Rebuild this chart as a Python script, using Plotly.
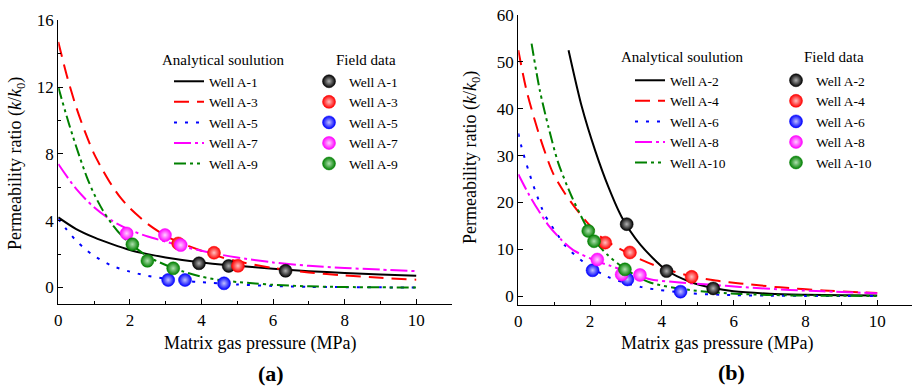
import plotly.graph_objects as go

FONT = "Liberation Serif"

# ---------------- data: panel (a) ----------------
wells_a = ["Well A-1", "Well A-3", "Well A-5", "Well A-7", "Well A-9"]
p_a1 = [0, 0.5, 1, 1.5, 2, 2.5, 3, 4, 5, 6, 7, 8, 9, 10]
k_a1 = [4.2, 3.5, 3.0, 2.6, 2.25, 2.0, 1.8, 1.5, 1.3, 1.12, 0.98, 0.87, 0.78, 0.7]
p_a3 = [0, 0.25, 0.5, 0.75, 1, 1.25, 1.5, 1.75, 2, 2.5, 3, 3.5, 4, 4.5, 5, 6, 7, 8, 9, 10]
k_a3 = [14.7, 12.6, 10.8, 9.3, 8.0, 7.0, 6.1, 5.35, 4.75, 3.8, 3.1, 2.6, 2.2, 1.85, 1.57, 1.17, 0.9, 0.72, 0.58, 0.47]
p_a5 = [0, 0.2, 0.5, 0.75, 1, 1.5, 2, 2.5, 3, 3.5, 4, 5, 6, 7, 8, 9, 10]
k_a5 = [4.1, 3.55, 2.8, 2.3, 1.9, 1.3, 0.95, 0.7, 0.52, 0.4, 0.32, 0.18, 0.09, 0.04, 0.02, 0.01, 0.0]
p_a7 = [0, 0.5, 1, 1.5, 2, 2.5, 3, 3.5, 4, 4.5, 5, 6, 7, 8, 9, 10]
k_a7 = [7.4, 5.9, 4.8, 4.0, 3.45, 3.05, 2.75, 2.45, 2.2, 1.98, 1.8, 1.5, 1.3, 1.17, 1.07, 0.98]
p_a9 = [0, 0.2, 0.4, 0.6, 0.8, 1, 1.25, 1.5, 1.75, 2, 2.5, 3, 3.5, 4, 4.5, 5, 5.5, 6, 7, 8, 9, 10]
k_a9 = [12.0, 10.5, 9.1, 7.8, 6.6, 5.6, 4.6, 3.8, 3.15, 2.65, 1.85, 1.35, 0.95, 0.65, 0.45, 0.33, 0.24, 0.16, 0.07, 0.03, 0.01, 0.0]

fp_a1 = [3.93, 4.76, 6.35]; fk_a1 = [1.45, 1.29, 1.0]
fp_a3 = [3.35, 4.35, 5.02]; fk_a3 = [2.64, 2.08, 1.30]
fp_a5 = [3.07, 3.54, 4.63]; fk_a5 = [0.45, 0.45, 0.25]
fp_a7 = [1.91, 2.98, 3.42]; fk_a7 = [3.24, 3.14, 2.54]
fp_a9 = [2.07, 2.49, 3.21]; fk_a9 = [2.59, 1.60, 1.15]

# ---------------- data: panel (b) ----------------
wells_b = ["Well A-2", "Well A-4", "Well A-6", "Well A-8", "Well A-10"]
p_b2 = [1.4, 1.77, 2.14, 2.51, 2.88, 3.4, 4.13, 4.8, 5.43, 6, 7, 8, 9, 10]
k_b2 = [52.5, 40.4, 31.1, 23.3, 16.9, 11.0, 5.5, 3.0, 1.7, 1.0, 0.5, 0.28, 0.15, 0.1]
p_b4 = [0, 0.23, 0.6, 0.97, 1.3, 1.67, 2.0, 2.4, 3.0, 3.5, 4.0, 4.83, 5.5, 6.18, 7.29, 8.5, 10]
k_b4 = [52.5, 43.9, 34.0, 26.2, 21.9, 18.0, 15.0, 12.0, 9.4, 7.5, 6.0, 4.2, 3.3, 2.7, 1.85, 1.2, 0.65]
p_b6 = [0, 0.09, 0.28, 0.47, 0.74, 1.07, 1.3, 1.81, 2.46, 3.44, 4.78, 6, 7, 8, 10]
k_b6 = [34.7, 31.8, 26.9, 22.5, 17.3, 13.4, 10.8, 7.3, 4.2, 1.9, 0.6, 0.2, 0.08, 0.03, 0.0]
p_b8 = [0, 0.28, 0.56, 0.84, 1.2, 1.53, 2.2, 2.55, 3.0, 3.67, 4.5, 5.3, 6.18, 7.57, 8.5, 10]
k_b8 = [26.0, 21.9, 18.3, 15.1, 12.0, 9.8, 7.4, 6.5, 5.3, 3.6, 2.9, 2.45, 1.95, 1.3, 1.0, 0.6]
p_b10 = [0.37, 0.6, 0.84, 1.11, 1.49, 1.9, 2.11, 2.5, 2.97, 3.67, 4.78, 6.18, 7.5, 10]
k_b10 = [53.9, 43.9, 36.1, 28.5, 21.2, 14.8, 12.0, 8.7, 5.8, 2.9, 1.3, 0.45, 0.15, 0.02]

fp_b2 = [3.02, 4.13, 5.43]; fk_b2 = [15.35, 5.33, 1.63]
fp_b4 = [2.42, 3.11, 4.83]; fk_b4 = [11.4, 9.3, 4.1]
fp_b6 = [2.07, 3.04, 4.52]; fk_b6 = [5.5, 3.55, 0.93]
fp_b8 = [2.2, 2.88, 3.39]; fk_b8 = [7.8, 4.6, 4.5]
fp_b10 = [1.95, 2.11, 2.97]; fk_b10 = [13.9, 11.7, 5.7]

colors = ["#000000", "#ff0000", "#0000ff", "#ff00ff", "#008000"]
light = ["#b0b0b0", "#ffc0c0", "#c0c0ff", "#ffd0ff", "#b0e0b0"]
dashes = ["solid", "15px,8px", "3px,8px", "17px,4px,3px,4px", "12px,4px,3px,4px,3px,4px"]

curves_a = [(p_a1, k_a1), (p_a3, k_a3), (p_a5, k_a5), (p_a7, k_a7), (p_a9, k_a9)]
field_a = [(fp_a1, fk_a1), (fp_a3, fk_a3), (fp_a5, fk_a5), (fp_a7, fk_a7), (fp_a9, fk_a9)]
curves_b = [(p_b2, k_b2), (p_b4, k_b4), (p_b6, k_b6), (p_b8, k_b8), (p_b10, k_b10)]
field_b = [(fp_b2, fk_b2), (fp_b4, fk_b4), (fp_b6, fk_b6), (fp_b8, fk_b8), (fp_b10, fk_b10)]

fig = go.Figure()

def add_panel(curves, field, names, xa, ya, leg_line, leg_pt):
    for i, (px, ky) in enumerate(curves):
        fig.add_trace(go.Scatter(
            x=px, y=ky, mode="lines", name=names[i], xaxis=xa, yaxis=ya,
            line=dict(color=colors[i], width=2, dash=dashes[i], shape="spline", smoothing=0.8),
            legend=leg_line))
    for i, (px, ky) in enumerate(field):
        fig.add_trace(go.Scatter(
            x=px, y=ky, mode="markers", name=names[i], xaxis=xa, yaxis=ya,
            marker=dict(color=colors[i], size=13,
                        gradient=dict(type="radial", color=light[i]),
                        line=dict(color=colors[i], width=0.5)),
            legend=leg_pt))

add_panel(curves_a, field_a, wells_a, "x", "y", "legend", "legend2")
add_panel(curves_b, field_b, wells_b, "x2", "y2", "legend3", "legend4")

W, H = 913, 388

def px2x(v):
    return v / W

def px2y(v):
    return 1 - v / H

axis_common = dict(
    showline=True, linecolor="black", linewidth=1.3, mirror=False,
    ticks="inside", ticklen=5, tickwidth=1.2, tickcolor="black",
    showgrid=False, zeroline=False, automargin=False,
    tickfont=dict(family=FONT, size=17, color="black"),
)

fig.update_layout(
    width=W, height=H, margin=dict(l=0, r=0, t=0, b=0, autoexpand=False),
    paper_bgcolor="white", plot_bgcolor="white",
    font=dict(family=FONT, size=15, color="black"),
    xaxis=dict(domain=[px2x(58.3), px2x(452)], range=[0, 11], dtick=2, tick0=0,
               anchor="y", minor=dict(ticks="inside", ticklen=3, dtick=1, tickcolor="black"),
               **axis_common),
    yaxis=dict(domain=[px2y(304.2), px2y(20)], range=[-1, 16.02], dtick=4, tick0=0,
               anchor="x", minor=dict(ticks="inside", ticklen=3, dtick=2, tickcolor="black"),
               **axis_common),
    xaxis2=dict(domain=[px2x(518.3), px2x(912)], range=[0, 10.97], dtick=2, tick0=0,
                anchor="y2", minor=dict(ticks="inside", ticklen=3, dtick=1, tickcolor="black"),
                **axis_common),
    yaxis2=dict(domain=[px2y(305.4), px2y(14.6)], range=[-2, 60.1], dtick=10, tick0=0,
                anchor="x2", **axis_common),
)

leg_common = dict(bgcolor="rgba(0,0,0,0)", borderwidth=0, xanchor="left", yanchor="top",
                  font=dict(family=FONT, size=13.5, color="black"), tracegroupgap=0,
                  itemclick=False, itemdoubleclick=False)
fig.update_layout(
    legend=dict(x=px2x(169), y=px2y(66), **leg_common),
    legend2=dict(x=px2x(309), y=px2y(66), **leg_common),
    legend3=dict(x=px2x(630), y=px2y(65), **leg_common),
    legend4=dict(x=px2x(776), y=px2y(65), **leg_common),
)

ann = []
def text(x, y, s, size=15, angle=0, bold=False):
    ann.append(dict(x=px2x(x), y=px2y(y), xref="paper", yref="paper", text=("<b>%s</b>" % s) if bold else s,
                    showarrow=False, xanchor="center", yanchor="middle", textangle=angle,
                    font=dict(family=FONT, size=size, color="black")))

text(223, 60, "Analytical soulution")
text(366, 60, "Field data")
text(682, 57, "Analytical soulution")
text(834, 57, "Field data")
text(259.5, 343, "Matrix gas pressure (MPa)", size=18)
text(716.7, 343, "Matrix gas pressure (MPa)", size=18)
ytitle = "Permeability ratio (<i>k</i>/<i>k</i><sub>0</sub>)"
text(16, 164, ytitle, size=18, angle=-90)
text(471, 158, ytitle, size=18, angle=-90)
text(271, 373, "(a)", size=22, bold=True)
text(731, 372, "(b)", size=22, bold=True)
fig.update_layout(annotations=ann)

fig.write_html("out.html")
